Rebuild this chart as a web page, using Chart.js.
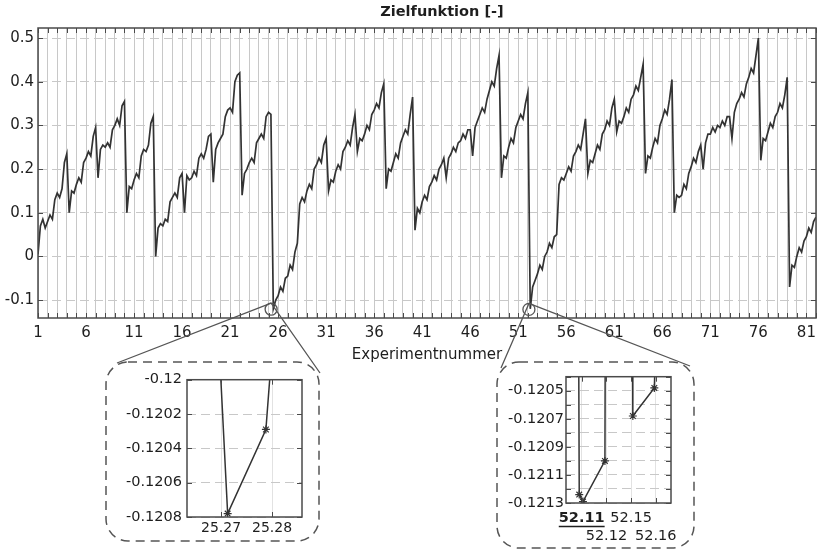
<!DOCTYPE html>
<html lang="de">
<head>
<meta charset="utf-8">
<title>Zielfunktion</title>
<script src="https://cdn.jsdelivr.net/npm/chart.js@4.4.1/dist/chart.umd.min.js"></script>
<style>
  html, body { margin: 0; padding: 0; background: #fff; }
  #wrap { position: relative; width: 822px; height: 555px; }
  canvas { position: absolute; }
  #mainChart { left: 0; top: 0; }
  #lupe1 { left: 110px; top: 366px; }
  #lupe2 { left: 500px; top: 366px; }
</style>
</head>
<body>
<div id="wrap">
  <canvas id="mainChart" width="822" height="555"></canvas>
  <canvas id="lupe1" width="205" height="172"></canvas>
  <canvas id="lupe2" width="192" height="180"></canvas>
</div>
<script>
/* Zielfunktion über Experimentnummer, mit zwei Lupen (Chart.js v4) */

const FONT = "'DejaVu Sans', Verdana, sans-serif";
const COLORS = {
  line: "#333333",
  frame: "#4a4a4a",
  grid: "#c8c8c8",
  text: "#1e1e1e",
  box: "#555555",
};

// Zwischenschritte innerhalb eines Experiments
const messOffsets = [0, 0.25, 0.5, 0.75];

// Zielfunktion je Experimentnummer (1 ... 82)
const zielfunktion = [
  [0.005, 0.07, 0.085, 0.065],   // 1
  [0.08, 0.095, 0.085, 0.13],
  [0.145, 0.135, 0.155, 0.215],
  [0.235, 0.10, 0.15, 0.145],
  [0.165, 0.18, 0.17, 0.215],    // 5
  [0.225, 0.24, 0.23, 0.275],
  [0.295, 0.18, 0.245, 0.255],
  [0.25, 0.26, 0.25, 0.29],
  [0.30, 0.315, 0.30, 0.345],
  [0.355, 0.10, 0.16, 0.155],    // 10
  [0.175, 0.19, 0.18, 0.23],
  [0.245, 0.24, 0.255, 0.305],
  [0.32, 0.0, 0.065, 0.075],
  [0.07, 0.085, 0.08, 0.125],
  [0.135, 0.145, 0.135, 0.18],   // 15
  [0.19, 0.10, 0.185, 0.175],
  [0.18, 0.195, 0.185, 0.225],
  [0.235, 0.225, 0.245, 0.275],
  [0.28, 0.17, 0.245, 0.26],
  [0.27, 0.28, 0.32, 0.335],     // 20
  [0.34, 0.33, 0.40, 0.415],
  [0.42, 0.14, 0.19, 0.20],
  [0.215, 0.225, 0.215, 0.26],
  [0.27, 0.28, 0.27, 0.32],
  [0.33, 0.325, -0.12, -0.10],   // 25
  [-0.09, -0.07, -0.08, -0.05],
  [-0.045, -0.02, -0.03, 0.01],
  [0.03, 0.12, 0.135, 0.125],
  [0.15, 0.165, 0.155, 0.20],
  [0.21, 0.225, 0.215, 0.255],   // 30
  [0.27, 0.15, 0.175, 0.17],
  [0.195, 0.21, 0.20, 0.24],
  [0.25, 0.265, 0.255, 0.295],
  [0.325, 0.24, 0.27, 0.265],
  [0.28, 0.30, 0.29, 0.325],     // 35
  [0.335, 0.35, 0.34, 0.375],
  [0.395, 0.155, 0.20, 0.195],
  [0.215, 0.235, 0.225, 0.26],
  [0.275, 0.29, 0.28, 0.325],
  [0.365, 0.06, 0.11, 0.10],     // 40
  [0.125, 0.14, 0.13, 0.16],
  [0.17, 0.185, 0.175, 0.20],
  [0.21, 0.225, 0.18, 0.225],
  [0.235, 0.25, 0.24, 0.26],
  [0.265, 0.28, 0.27, 0.29],     // 45
  [0.29, 0.23, 0.295, 0.31],
  [0.325, 0.34, 0.33, 0.36],
  [0.38, 0.40, 0.39, 0.43],
  [0.46, 0.18, 0.23, 0.225],
  [0.25, 0.27, 0.26, 0.295],     // 50
  [0.31, 0.325, 0.315, 0.35],
  [0.375, -0.12, -0.07, -0.055],
  [-0.04, -0.02, -0.03, 0.0],
  [0.01, 0.03, 0.02, 0.045],
  [0.05, 0.165, 0.18, 0.175],    // 55
  [0.19, 0.205, 0.195, 0.23],
  [0.24, 0.255, 0.245, 0.28],
  [0.315, 0.19, 0.22, 0.215],
  [0.235, 0.255, 0.245, 0.28],
  [0.29, 0.31, 0.30, 0.34],      // 60
  [0.36, 0.285, 0.31, 0.305],
  [0.32, 0.34, 0.33, 0.36],
  [0.37, 0.39, 0.38, 0.41],
  [0.44, 0.19, 0.23, 0.225],
  [0.25, 0.27, 0.26, 0.30],      // 65
  [0.315, 0.335, 0.325, 0.36],
  [0.405, 0.10, 0.14, 0.135],
  [0.14, 0.165, 0.155, 0.19],
  [0.205, 0.225, 0.215, 0.24],
  [0.255, 0.20, 0.26, 0.28],     // 70
  [0.28, 0.295, 0.285, 0.30],
  [0.295, 0.31, 0.30, 0.32],
  [0.32, 0.27, 0.33, 0.35],
  [0.36, 0.375, 0.365, 0.395],
  [0.41, 0.43, 0.42, 0.46],      // 75
  [0.50, 0.22, 0.27, 0.265],
  [0.285, 0.305, 0.295, 0.32],
  [0.33, 0.35, 0.34, 0.37],
  [0.41, -0.07, -0.02, -0.025],
  [0.0, 0.02, 0.01, 0.035],      // 80
  [0.045, 0.065, 0.055, 0.08],
  [0.09],
];

const xTickLabels = [1, 6, 11, 16, 21, 26, 31, 36, 41, 46, 51, 56, 61, 66, 71, 76, 81];
const yTickLabels = [-0.1, 0, 0.1, 0.2, 0.3, 0.4, 0.5];

// Lupe 1: Minimum bei Experiment 25
const lupe1X = [25.2698, 25.2713, 25.2788, 25.2798];
const lupe1Y = [-0.1199, -0.12078, -0.12029, -0.1199];
const lupe1Marker = [0, 4, 4, 0];
const lupe1XTicks = [25.27, 25.28];
const lupe1YTicks = [-0.12, -0.1202, -0.1204, -0.1206, -0.1208];

// Lupe 2: Minimum bei Experiment 52 (Achse als Stützstellen-Index)
const lupe2Kategorien = ["52.11", "52.12", "52.15", "52.16"];
const lupe2X = [-0.12, -0.10, 0.05, 0.94, 0.95, 1.5, 2.06, 2.07, 2.94, 2.97];
const lupe2Y = [-0.1203, -0.12124, -0.12129, -0.121, -0.1203, null, -0.1203, -0.12068, -0.12048, -0.1203];
const lupe2Marker = [0, 4, 4, 4, 0, 0, 0, 4, 4, 0];
const lupe2YTicks = [-0.1204, -0.1205, -0.1206, -0.1207, -0.1208, -0.1209, -0.121, -0.1211, -0.1212, -0.1213];
const lupe2YLabels = [-0.1205, -0.1207, -0.1209, -0.1211, -0.1213];

/**
 * Rahmen und nach innen zeigende Teilstriche
 */
const rahmenPlugin = {
  id: "rahmen",
  afterDatasetsDraw(chart) {
    const { ctx, chartArea: a, scales: { x, y } } = chart;
    const len = 5;
    ctx.save();
    ctx.strokeStyle = COLORS.frame;
    ctx.lineWidth = 1;
    ctx.beginPath();
    x.ticks.forEach((t) => {
      const px = Math.round(x.getPixelForValue(t.value)) + 0.5;
      ctx.moveTo(px, a.bottom);
      ctx.lineTo(px, a.bottom - len);
      ctx.moveTo(px, a.top);
      ctx.lineTo(px, a.top + len);
    });
    y.ticks.forEach((t) => {
      const py = Math.round(y.getPixelForValue(t.value)) + 0.5;
      ctx.moveTo(a.left, py);
      ctx.lineTo(a.left + len, py);
      ctx.moveTo(a.right, py);
      ctx.lineTo(a.right - len, py);
    });
    ctx.stroke();
    ctx.lineWidth = 1.5;
    ctx.strokeRect(a.left, a.top, a.right - a.left, a.bottom - a.top);
    ctx.restore();
  },
};

/**
 * Titel, Lupenkreise, Verbindungslinien und gestrichelte Kästen
 */
const lupen = [
  { x: 25.27, y: -0.1208, box: [106, 362, 213, 179], anker: [[117, 363], [320, 373]] },
  { x: 52.11, y: -0.1213, box: [497, 362, 197, 186], anker: [[501, 368], [690, 366]] },
];

const lupenPlugin = {
  id: "lupen",
  afterDraw(chart) {
    const { ctx, chartArea: a, scales: { x, y } } = chart;
    ctx.save();
    ctx.fillStyle = COLORS.text;
    ctx.font = `bold 14.5px ${FONT}`;
    ctx.textAlign = "center";
    ctx.textBaseline = "middle";
    ctx.fillText("Zielfunktion [-]", (a.left + a.right) / 2 + 15, 12);

    ctx.strokeStyle = COLORS.box;
    lupen.forEach((l) => {
      const cx = x.getPixelForValue(l.x);
      const cy = y.getPixelForValue(l.y);
      const r = 6;
      ctx.setLineDash([]);
      ctx.lineWidth = 1.3;
      ctx.beginPath();
      ctx.arc(cx, cy, r, 0, Math.PI * 2);
      ctx.stroke();
      ctx.beginPath();
      l.anker.forEach(([ax, ay]) => {
        ctx.moveTo(cx, cy - r);
        ctx.lineTo(ax, ay);
      });
      ctx.stroke();
      ctx.setLineDash([9, 6]);
      ctx.lineWidth = 1.5;
      ctx.beginPath();
      ctx.roundRect(l.box[0], l.box[1], l.box[2], l.box[3], 22);
      ctx.stroke();
    });
    ctx.restore();
  },
};

const hauptPunkte = [];
zielfunktion.forEach((werte, i) => {
  werte.forEach((w, k) => hauptPunkte.push({ x: i + 1 + messOffsets[k], y: w }));
});
const experimentNr = zielfunktion.map((_, i) => i + 1);

const tickFont = { family: FONT, size: 15 };
const lupeFont = { family: FONT, size: 14.5 };

new Chart(document.getElementById("mainChart"), {
  type: "line",
  data: {
    datasets: [{
      data: hauptPunkte,
      borderColor: COLORS.line,
      borderWidth: 1.7,
      pointRadius: 0,
      tension: 0,
    }],
  },
  options: {
    responsive: false,
    animation: false,
    layout: { padding: { top: 28, right: 2, bottom: 187, left: 0 } },
    plugins: { legend: { display: false }, tooltip: { enabled: false } },
    scales: {
      x: {
        type: "linear",
        min: 1,
        max: 82,
        afterBuildTicks: (s) => { s.ticks = experimentNr.map((v) => ({ value: v })); },
        afterFit: (s) => { s.height = 50; },
        ticks: {
          autoSkip: false,
          maxRotation: 0,
          padding: 6,
          font: tickFont,
          color: COLORS.text,
          callback: (v) => (xTickLabels.includes(v) ? String(v) : ""),
        },
        grid: { color: COLORS.grid, drawTicks: false },
        border: { display: false },
        title: {
          display: true,
          text: "Experimentnummer",
          font: tickFont,
          color: COLORS.text,
          padding: { top: 0, bottom: 4 },
        },
      },
      y: {
        min: -0.141,
        max: 0.523,
        afterBuildTicks: (s) => { s.ticks = yTickLabels.map((v) => ({ value: v })); },
        afterFit: (s) => { s.width = 38; },
        ticks: { autoSkip: false, padding: 4, font: tickFont, color: COLORS.text, callback: (v) => String(v) },
        grid: { color: COLORS.grid, drawTicks: false },
        border: { display: false, dash: [9, 5] },
      },
    },
  },
  plugins: [rahmenPlugin, lupenPlugin],
});

// Lupe 1
new Chart(document.getElementById("lupe1"), {
  type: "line",
  data: {
    datasets: [{
      data: lupe1X.map((v, i) => ({ x: v, y: lupe1Y[i] })),
      borderColor: COLORS.line,
      borderWidth: 1.5,
      pointStyle: "star",
      pointRadius: lupe1Marker,
      pointBorderColor: COLORS.line,
      pointBorderWidth: 1.2,
      tension: 0,
    }],
  },
  options: {
    responsive: false,
    animation: false,
    layout: { padding: { top: 10, right: 13, bottom: 0, left: 0 } },
    plugins: { legend: { display: false }, tooltip: { enabled: false } },
    scales: {
      x: {
        type: "linear",
        min: 25.26333,
        max: 25.28588,
        afterBuildTicks: (s) => { s.ticks = lupe1XTicks.map((v) => ({ value: v })); },
        afterFit: (s) => { s.height = 21; },
        ticks: { autoSkip: false, maxRotation: 0, padding: 3, font: { family: FONT, size: 14 }, color: COLORS.text, callback: (v) => String(v) },
        grid: { color: "#e2e2e2", drawTicks: false },
        border: { display: false },
      },
      y: {
        min: -0.1208,
        max: -0.12,
        afterBuildTicks: (s) => { s.ticks = lupe1YTicks.map((v) => ({ value: v })); },
        afterFit: (s) => { s.width = 77; },
        ticks: { autoSkip: false, padding: 5, font: lupeFont, color: COLORS.text, callback: (v) => String(v) },
        grid: { color: COLORS.grid, drawTicks: false },
        border: { display: false, dash: [9, 5] },
      },
    },
  },
  plugins: [rahmenPlugin],
});

// Lupe 2, hervorgehobene Stützstelle wird unterstrichen
const unterstreichPlugin = {
  id: "unterstreichen",
  afterDraw(chart) {
    const { ctx, chartArea: a, scales: { x } } = chart;
    ctx.save();
    ctx.font = `bold 14.5px ${FONT}`;
    const w = ctx.measureText(lupe2Kategorien[0]).width;
    const px = x.getPixelForValue(0);
    ctx.strokeStyle = COLORS.text;
    ctx.lineWidth = 1.5;
    ctx.beginPath();
    ctx.moveTo(px - w / 2, a.bottom + 23.5);
    ctx.lineTo(px + w / 2, a.bottom + 23.5);
    ctx.stroke();
    ctx.restore();
  },
};

new Chart(document.getElementById("lupe2"), {
  type: "line",
  data: {
    datasets: [{
      data: lupe2X.map((v, i) => ({ x: v, y: lupe2Y[i] })),
      borderColor: COLORS.line,
      borderWidth: 1.5,
      pointStyle: "star",
      pointRadius: lupe2Marker,
      pointBorderColor: COLORS.line,
      pointBorderWidth: 1.2,
      tension: 0,
      spanGaps: false,
    }],
  },
  options: {
    responsive: false,
    animation: false,
    layout: { padding: { top: 10, right: 21, bottom: 0, left: 0 } },
    plugins: { legend: { display: false }, tooltip: { enabled: false } },
    scales: {
      x: {
        type: "linear",
        min: -0.636,
        max: 3.615,
        afterBuildTicks: (s) => { s.ticks = lupe2Kategorien.map((_, i) => ({ value: i })); },
        afterFit: (s) => { s.height = 43; },
        ticks: {
          autoSkip: false,
          maxRotation: 0,
          padding: 7,
          color: COLORS.text,
          font: (c) => ({ family: FONT, size: 14.5, weight: c.tick && c.tick.value === 0 ? "bold" : "normal" }),
          callback: (v) => (v % 2 === 0 ? [lupe2Kategorien[v], ""] : ["", lupe2Kategorien[v]]),
        },
        grid: { color: "#e2e2e2", drawTicks: false },
        border: { display: false },
      },
      y: {
        min: -0.1213,
        max: -0.1204,
        afterBuildTicks: (s) => { s.ticks = lupe2YTicks.map((v) => ({ value: v })); },
        afterFit: (s) => { s.width = 66; },
        ticks: {
          autoSkip: false,
          padding: 2,
          font: lupeFont,
          color: COLORS.text,
          callback: (v) => (lupe2YLabels.includes(v) ? String(v) : ""),
        },
        grid: { color: COLORS.grid, drawTicks: false },
        border: { display: false, dash: [9, 5] },
      },
    },
  },
  plugins: [rahmenPlugin, unterstreichPlugin],
});
</script>
</body>
</html>
